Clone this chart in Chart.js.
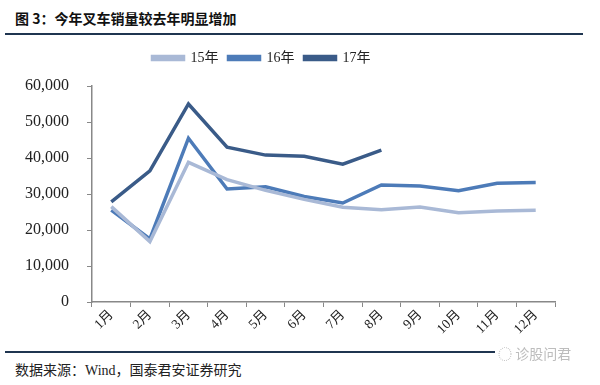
<!DOCTYPE html>
<html>
<head>
<meta charset="utf-8">
<script src="https://cdn.jsdelivr.net/npm/chart.js"></script>
<style>
  body { margin: 0; background: #fff; width: 600px; height: 385px; position: relative; overflow: hidden; }
  .title { position: absolute; left: 15px; top: 8px; font-family: "Noto Sans CJK SC", sans-serif; font-weight: bold; font-size: 14px; color: #111; }
  .rule { position: absolute; left: 5px; height: 2px; background: #1f3550; }
  .source { position: absolute; left: 15px; top: 359px; font-family: "Liberation Serif", "Noto Sans CJK SC", serif; font-size: 14px; color: #222; }
  .mark { position: absolute; left: 498px; top: 343px; font-family: "Noto Sans CJK SC", sans-serif; font-size: 14px; color: #bdbdbd; }
  #wrap { position: absolute; left: 0; top: 40px; width: 600px; height: 305px; }
</style>
</head>
<body>
<div class="title">图 3：今年叉车销量较去年明显增加</div>
<div class="rule" style="top:33px;width:578px"></div>
<div id="wrap"><canvas id="salesChart"></canvas></div>
<div class="rule" style="top:351px;width:490px;height:1.5px"></div>
<div class="source">数据来源：Wind，国泰君安证券研究</div>
<div class="mark">◌ 诊股问君</div>
<script>
const months = ['1月', '2月', '3月', '4月', '5月', '6月', '7月', '8月', '9月', '10月', '11月', '12月'];
const sales15 = [26500, 16800, 38800, 34000, 31000, 28500, 26300, 25600, 26400, 24800, 25300, 25500];
const sales16 = [25500, 17500, 45500, 31400, 32000, 29300, 27500, 32500, 32200, 30900, 33000, 33200];
const sales17 = [27800, 36400, 55000, 43000, 40800, 40500, 38300, 42200];
const yTicks = [0, 10000, 20000, 30000, 40000, 50000, 60000];

const serif = '"Liberation Serif", "Noto Sans CJK SC", serif';

function makeSeries(label, data, color) {
  return {
    label: label,
    data: data,
    borderColor: color,
    backgroundColor: color,
    borderWidth: 3.5,
    pointRadius: 0,
    tension: 0,
    fill: false
  };
}

// push the plot down below the legend and pull the legend a bit left
const legendTweak = {
  id: 'legendTweak',
  beforeLayout: function(chart) {
    const lg = chart.legend;
    if (lg && !lg._tweaked) {
      const origFit = lg.fit;
      lg.fit = function() {
        origFit.call(this);
        this.height += 12;
      };
      lg._tweaked = true;
    }
  },
  afterLayout: function(chart) {
    const lg = chart.legend;
    if (lg) {
      lg.left -= 32;
      lg.top += 1;
    }
  }
};

document.addEventListener('DOMContentLoaded', function() {
  const ctx = document.getElementById('salesChart');
  new Chart(ctx, {
    type: 'line',
    data: {
      labels: months,
      datasets: [
        makeSeries('15年', sales15, '#a9b9d6'),
        makeSeries('16年', sales16, '#4d7bb8'),
        makeSeries('17年', sales17, '#3a5b88')
      ]
    },
    plugins: [legendTweak],
    options: {
      responsive: true,
      maintainAspectRatio: false,
      animation: false,
      layout: { padding: { left: 0, right: 45, top: 0, bottom: 0 } },
      plugins: {
        legend: {
          position: 'top',
          labels: {
            boxWidth: 31,
            boxHeight: 3,
            padding: 10,
            color: '#222',
            font: { family: serif, size: 14 }
          }
        },
        tooltip: { enabled: false }
      },
      scales: {
        x: {
          offset: true,
          grid: { offset: true, drawOnChartArea: false, color: '#888', tickLength: 5 },
          border: { color: '#888', width: 1.5 },
          ticks: {
            maxRotation: 45,
            minRotation: 45,
            padding: 0,
            color: '#222',
            font: { family: serif, size: 13.5 }
          },
          afterFit: function(scale) { scale.height = 43; }
        },
        y: {
          min: 0,
          max: 60000,
          afterBuildTicks: function(scale) { scale.ticks = yTicks.map(v => ({ value: v })); },
          grid: { drawOnChartArea: false, color: '#888', tickLength: 5 },
          border: { color: '#888', width: 1.5 },
          ticks: {
            padding: 18,
            color: '#222',
            font: { family: serif, size: 16 },
            callback: function(value) { return value.toLocaleString('en-US'); }
          },
          afterFit: function(scale) { scale.width = 92; }
        }
      }
    }
  });
});
</script>
</body>
</html>
